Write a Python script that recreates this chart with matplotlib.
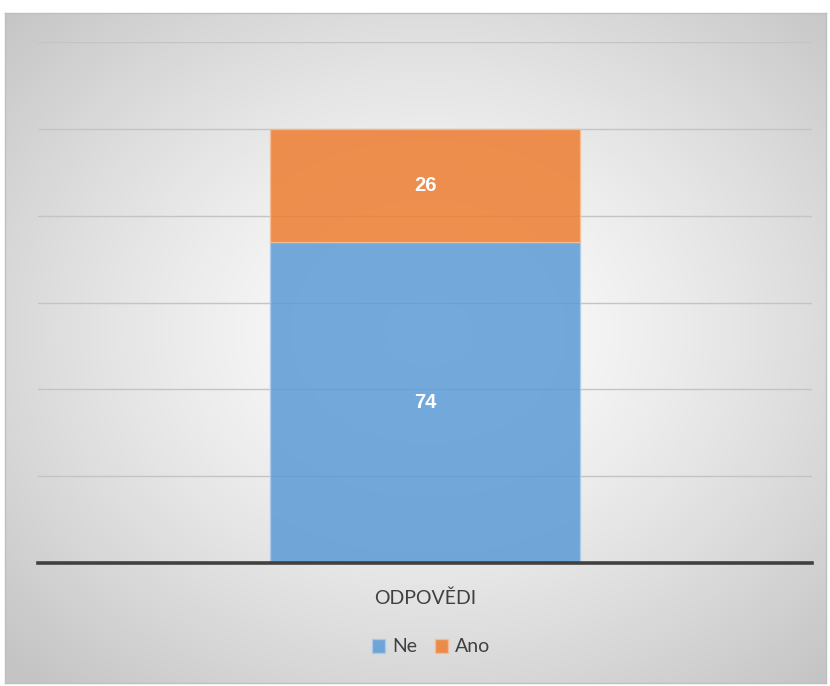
import numpy as np
import matplotlib.pyplot as plt
from matplotlib.patches import Patch

categories = ["ODPOVĚDI"]
ne_values = [74]
ano_values = [26]
series_names = ["Ne", "Ano"]
y_ticks = [0, 20, 40, 60, 80, 100, 120]

plt.rcParams['font.family'] = ['Lato', 'DejaVu Sans']

fig = plt.figure(figsize=(8.3, 6.86), dpi=100)

# background box with radial gradient (white centre, grey corners)
bg = fig.add_axes([5/830, 3/686, 821/830, 670/686])
nx, ny = 400, 330
xx, yy = np.meshgrid(np.linspace(-1, 1, nx), np.linspace(-1, 1, ny))
r = np.sqrt((xx - 0.03)**2 + (yy + 0.05)**2) / 1.42
r = np.clip(r, 0, 1)
shade = 1.0 - 0.23 * r**1.3
img = np.dstack([shade, shade, shade])
bg.imshow(img, aspect='auto', extent=[0, 1, 0, 1], interpolation='bilinear')
bg.set_xticks([])
bg.set_yticks([])
for s in bg.spines.values():
    s.set_color('#BFBFBF')
    s.set_linewidth(1)

ax = fig.add_axes([38/830, (686-563)/686, 774/830, 521/686])
ax.patch.set_alpha(0)
x = np.arange(len(categories))

ax.bar(x, ne_values, width=0.4, color='#5B9BD5', alpha=0.85,
       edgecolor='#A9CBEA', linewidth=1, zorder=3)
ax.bar(x, ano_values, width=0.4, bottom=ne_values, color='#ED7D31', alpha=0.85,
       edgecolor='#F6BE98', linewidth=1, zorder=3)

# value labels inside the segments
for i in range(len(categories)):
    ax.text(x[i], ne_values[i] / 2, str(ne_values[i]), ha='center', va='center',
            color='white', fontsize=14.5, fontweight='bold', family='Liberation Sans', zorder=4)
    ax.text(x[i], ne_values[i] + ano_values[i] / 2, str(ano_values[i]), ha='center',
            va='center', color='white', fontsize=14.5, fontweight='bold',
            family='Liberation Sans', zorder=4)

ax.set_xlim(-0.5, 0.5)
ax.set_ylim(0, 120)
ax.set_yticks(y_ticks)
ax.yaxis.grid(True, color='#C4C4C4', linewidth=1, zorder=0)
ax.set_axisbelow(True)
ax.tick_params(axis='y', length=0, labelleft=False)
ax.tick_params(axis='x', length=0, pad=19, labelsize=14, labelcolor='#404040')
ax.set_xticks(x)
ax.set_xticklabels(categories)
for s in ['left', 'right', 'top']:
    ax.spines[s].set_visible(False)
ax.spines['bottom'].set_color('#404040')
ax.spines['bottom'].set_linewidth(2.6)
ax.spines['bottom'].set_zorder(5)

handles = [Patch(facecolor='#5B9BD5', alpha=0.85, edgecolor='#A9CBEA'),
           Patch(facecolor='#ED7D31', alpha=0.85, edgecolor='#F6BE98')]
fig.legend(handles, series_names, loc='center', bbox_to_anchor=(431/830, 1 - 647/686),
           ncol=2, frameon=False, fontsize=14, handlelength=0.7, handleheight=0.7,
           handletextpad=0.35, columnspacing=0.9, labelcolor='#404040')

fig.savefig('out.png', dpi=100)
